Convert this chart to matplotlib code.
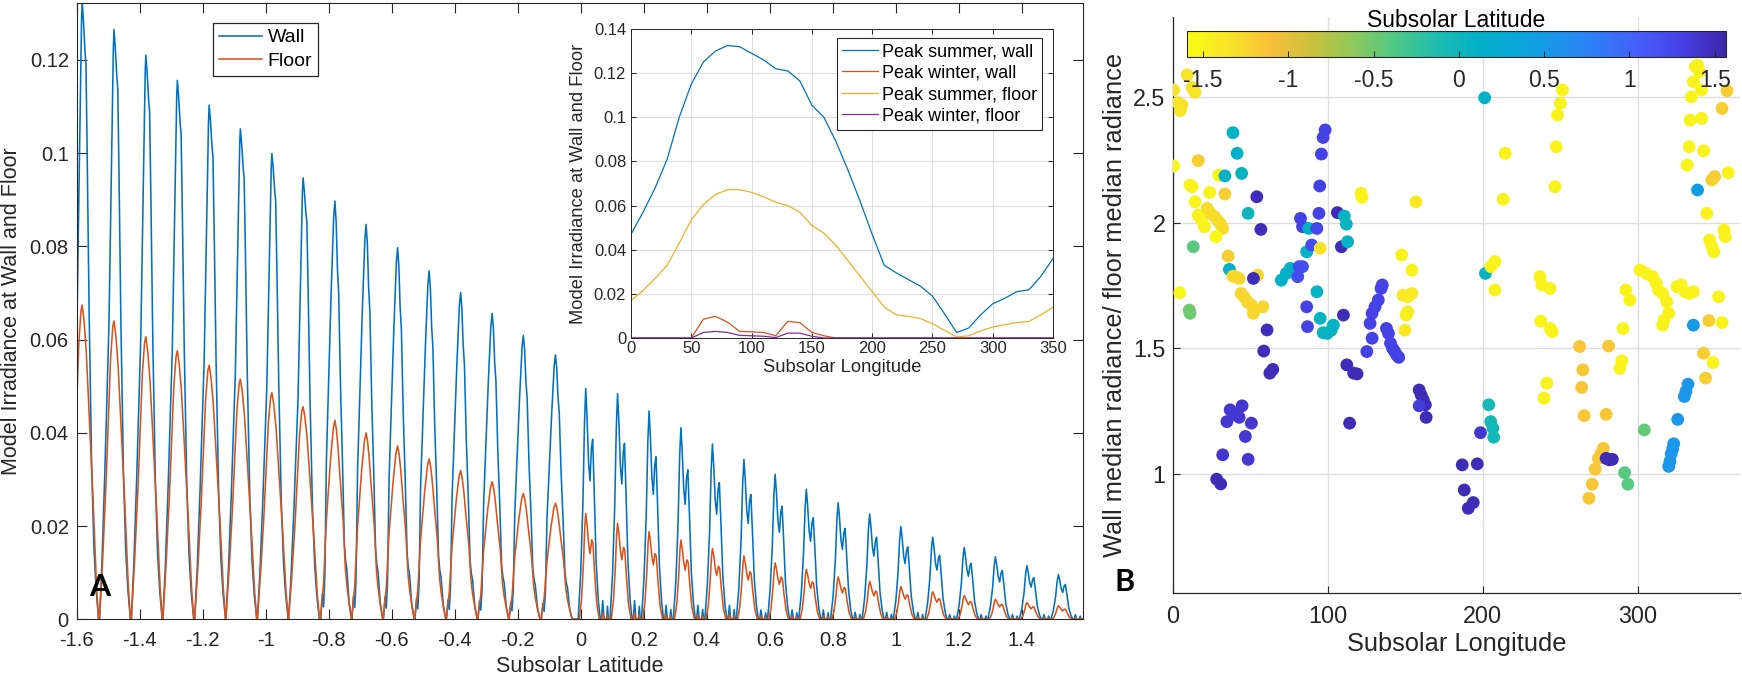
import numpy as np
import matplotlib
matplotlib.use('Agg')
import matplotlib.pyplot as plt
from matplotlib.colors import LinearSegmentedColormap, Normalize
from matplotlib.ticker import FuncFormatter

plt.rcParams['font.family'] = ['Liberation Sans', 'DejaVu Sans']
plt.rcParams['axes.unicode_minus'] = False

# ---------------- DATA: panel A (main) ----------------
peak_lat = [-1.582, -1.481, -1.380, -1.280, -1.179, -1.080, -0.980, -0.881,
            -0.780, -0.681, -0.581, -0.481, -0.381, -0.281, -0.182, -0.080,
            0.016, 0.117, 0.217, 0.318, 0.418, 0.518, 0.617, 0.716,
            0.817, 0.917, 1.016, 1.117, 1.217, 1.316, 1.416, 1.516]
wall_peak = [0.1324, 0.1265, 0.1210, 0.1156, 0.1103, 0.1052, 0.0999, 0.0947,
             0.0897, 0.0847, 0.0797, 0.0747, 0.0701, 0.0656, 0.0609, 0.0567,
             0.0495, 0.0484, 0.0447, 0.0411, 0.0376, 0.0343, 0.0311, 0.0279,
             0.0250, 0.0226, 0.0199, 0.0176, 0.0154, 0.0134, 0.0115, 0.0096]
floor_peak = [0.0674, 0.0640, 0.0606, 0.0576, 0.0545, 0.0515, 0.0486, 0.0456,
              0.0427, 0.0400, 0.0372, 0.0344, 0.0319, 0.0295, 0.0270, 0.0249,
              0.0227, 0.0206, 0.0188, 0.0170, 0.0152, 0.0136, 0.0121, 0.0107,
              0.0091, 0.0081, 0.0070, 0.0059, 0.0051, 0.0043, 0.0036, 0.0029]
cycle_shape = ['early'] * 8 + ['mid'] * 8 + ['late'] * 16
gap_bump = [0] * 16 + [0.004, 0.004, 0.003, 0.003, 0.003, 0.002, 0.002, 0.002,
                       0.0015, 0.0015, 0.0015, 0.001, 0.001, 0.001, 0.001, 0.001]

# peak profiles (offset from peak, fraction of peak)
wall_profile = {
    'early': ([-0.046, -0.038, -0.029, -0.016, -0.007, -0.002, 0.0, 0.004, 0.009, 0.012,
               0.016, 0.022, 0.030, 0.037, 0.044, 0.052],
              [0.0, 0.10, 0.25, 0.50, 0.80, 0.97, 1.0, 0.97, 0.92, 0.90,
               0.75, 0.50, 0.25, 0.12, 0.05, 0.0]),
    'mid': ([-0.045, -0.040, -0.036, -0.032, -0.027, -0.012, -0.004, 0.0, 0.004, 0.008,
             0.012, 0.018, 0.024, 0.030, 0.034, 0.038, 0.045, 0.053],
            [0.0, 0.06, 0.03, 0.10, 0.38, 0.78, 0.96, 1.0, 0.95, 0.84,
             0.78, 0.55, 0.38, 0.18, 0.14, 0.12, 0.04, 0.0]),
    'late': ([-0.024, -0.016, -0.009, -0.004, 0.0, 0.004, 0.009, 0.0135, 0.018, 0.022,
              0.027, 0.033, 0.040, 0.046],
             [0.0, 0.2, 0.5, 0.85, 1.0, 0.88, 0.68, 0.60, 0.74, 0.78,
              0.55, 0.25, 0.08, 0.0]),
}
floor_profile = {
    'early': ([-0.046, -0.036, -0.0255, -0.011, -0.004, 0.0, 0.006, 0.013, 0.020, 0.028,
               0.035, 0.045, 0.052],
              [0.0, 0.2, 0.45, 0.87, 0.98, 1.0, 0.95, 0.85, 0.70, 0.52,
               0.37, 0.12, 0.0]),
    'mid': ([-0.046, -0.036, -0.027, -0.014, -0.005, 0.0, 0.005, 0.010, 0.016, 0.026,
             0.033, 0.038, 0.046, 0.053],
            [0.0, 0.18, 0.50, 0.80, 0.96, 1.0, 0.95, 0.86, 0.72, 0.50,
             0.26, 0.17, 0.07, 0.0]),
    'late': ([-0.020, -0.013, -0.007, -0.003, 0.0, 0.004, 0.009, 0.0135, 0.019, 0.023,
              0.028, 0.035, 0.043],
             [0.0, 0.2, 0.55, 0.88, 1.0, 0.9, 0.72, 0.62, 0.75, 0.72,
              0.45, 0.15, 0.0]),
}
bump_dx = [0.050, 0.054, 0.058, 0.066, 0.069, 0.072]
bump_rel = [0.0, 1.0, 0.0, 0.0, 0.7, 0.0]

# ---------------- DATA: inset ----------------
inset_lon = list(range(0, 360, 10))
summer_wall = [0.047, 0.057, 0.068, 0.081, 0.100, 0.115, 0.125, 0.130, 0.1325, 0.132,
               0.129, 0.126, 0.122, 0.121, 0.1165, 0.1055, 0.100, 0.089, 0.076, 0.062,
               0.047, 0.033, 0.0295, 0.0265, 0.0235, 0.019, 0.011, 0.0025, 0.0045, 0.0105,
               0.0155, 0.018, 0.021, 0.0218, 0.028, 0.036]
winter_wall = [0, 0, 0, 0, 0, 0, 0.0085, 0.0098, 0.0072, 0.003,
               0.0028, 0.0025, 0.001, 0.0075, 0.007, 0.0025, 0.001, 0, 0, 0,
               0, 0, 0, 0, 0, 0, 0, 0, 0, 0, 0, 0, 0, 0, 0, 0]
summer_floor = [0.017, 0.0215, 0.027, 0.033, 0.043, 0.0535, 0.0605, 0.065, 0.0672, 0.0672,
                0.066, 0.064, 0.0615, 0.060, 0.057, 0.051, 0.0475, 0.042, 0.035, 0.028,
                0.021, 0.014, 0.0105, 0.0098, 0.0088, 0.0065, 0.0035, 0.0005, 0.001, 0.0032,
                0.005, 0.006, 0.007, 0.0075, 0.0105, 0.014]
winter_floor = [0, 0, 0, 0, 0, 0, 0.0025, 0.003, 0.0025, 0.0012,
                0.001, 0.0008, 0.0002, 0.0022, 0.0022, 0.0008, 0, 0, 0, 0,
                0, 0, 0, 0, 0, 0, 0, 0, 0, 0, 0, 0, 0, 0, 0, 0]

# ---------------- DATA: panel B ----------------
pts = [
    (9.2, 2.588, -1.35), (12.3, 2.538, -1.35), (14.2, 2.519, -1.35), (0.4, 2.528, -1.35),
    (3.1, 2.477, -1.35), (5.7, 2.468, -1.35), (4.7, 2.446, -1.35), (0.4, 2.225, -1.55),
    (16.3, 2.247, -1.2), (11.0, 2.150, -1.5), (12.3, 2.143, -1.5), (14.2, 2.083, -1.5),
    (23.7, 2.120, -1.5), (16.3, 2.030, -1.5), (18.4, 2.010, -1.5), (20.3, 1.984, -1.5),
    (29.5, 2.189, -1.55), (33.5, 2.186, 0.1), (33.5, 2.114, -1.2), (22.1, 2.057, -1.3),
    (24.2, 2.037, -1.3), (26.9, 2.024, -1.3), (29.0, 2.008, -1.3), (30.8, 1.994, -1.3),
    (32.1, 1.977, -1.3), (27.7, 1.944, -1.55), (13.1, 1.904, -0.4), (4.4, 1.721, -1.55),
    (10.5, 1.652, -0.5), (11.0, 1.639, -0.5), (35.6, 1.867, -1.2), (36.4, 1.814, 0.15),
    (38.7, 2.358, 0.1), (41.4, 2.276, 0.1), (44.3, 2.196, 0.05), (48.5, 2.037, 0.0),
    (54.1, 2.103, 1.5), (56.7, 1.973, 1.5), (38.7, 1.787, -1.25), (40.1, 1.785, -1.25),
    (42.7, 1.778, -1.25), (44.0, 1.718, -1.25), (45.9, 1.705, -1.25), (48.0, 1.685, -1.25),
    (50.6, 1.672, -1.25), (51.9, 1.639, -1.25), (54.6, 1.791, -1.25), (51.9, 1.778, 1.5),
    (58.0, 1.665, -1.25), (69.9, 1.771, 0.1), (73.1, 1.798, 0.1), (75.7, 1.818, 0.1),
    (80.5, 1.785, 1.2), (81.5, 1.825, 1.2), (83.6, 1.825, 1.2), (82.3, 2.017, 1.3),
    (83.6, 1.984, 1.3), (87.6, 1.977, 0.1), (86.3, 1.884, 0.1), (89.5, 1.911, 1.2),
    (86.3, 1.665, 1.3), (86.8, 1.586, 1.3), (92.9, 1.725, 0.05), (95.0, 1.898, -1.35),
    (92.9, 1.977, 1.25), (94.2, 2.037, 1.3), (94.7, 2.146, 1.3), (95.8, 2.273, 1.3),
    (96.9, 2.339, 1.3), (98.2, 2.369, 1.3), (95.0, 1.619, 0.05), (96.9, 1.562, 0.05),
    (99.5, 1.559, 0.05), (102.1, 1.572, 0.05), (103.5, 1.592, 0.05), (106.1, 2.040, 1.5),
    (110.6, 2.026, 0.05), (111.9, 1.994, 0.05), (108.7, 1.904, 1.5), (112.7, 1.924, 0.05),
    (110.0, 1.632, 1.5), (121.4, 2.117, -1.5), (121.9, 2.101, -1.5), (127.2, 1.599, 1.3),
    (128.5, 1.639, 1.3), (130.4, 1.665, 1.3), (132.5, 1.692, 1.3), (134.3, 1.738, 1.3),
    (135.1, 1.752, 1.3), (137.8, 1.579, 1.3), (139.1, 1.559, 1.3), (147.6, 1.871, -1.5),
    (154.2, 1.811, -1.5), (148.4, 1.711, -1.4), (151.5, 1.705, -1.4), (154.2, 1.718, -1.4),
    (151.5, 1.645, -1.45), (150.5, 1.632, -1.45), (149.7, 1.572, -1.4), (156.8, 2.083, -1.4),
    (201.2, 2.497, 0.1), (201.7, 1.798, 0.05), (205.2, 1.825, -1.5), (207.8, 1.845, -1.5),
    (207.8, 1.732, -1.5), (213.1, 2.093, -1.5), (214.4, 2.276, -1.5), (236.8, 1.785, -1.5),
    (238.2, 1.752, -1.5), (243.4, 1.738, -1.5), (237.4, 1.608, -1.5), (243.4, 1.579, -1.5),
    (244.8, 1.566, -1.5), (246.6, 2.143, -1.5), (247.4, 2.302, -1.5), (248.2, 2.428, -1.5),
    (250.0, 2.475, -1.5), (251.4, 2.528, -1.5), (292.3, 1.732, -1.5), (294.9, 1.692, -1.5),
    (290.5, 1.579, -1.5), (301.5, 1.811, -1.5), (305.5, 1.798, -1.5), (309.5, 1.785, -1.5),
    (312.1, 1.758, -1.5), (313.4, 1.732, -1.5), (316.1, 1.718, -1.5), (318.7, 1.685, -1.5),
    (320.0, 1.639, -1.5), (316.9, 1.612, -1.5), (316.1, 1.592, -1.5), (325.3, 1.745, -1.5),
    (328.0, 1.752, -1.5), (330.6, 1.725, -1.5), (333.2, 1.718, -1.5), (335.9, 1.725, -1.5),
    (335.9, 1.592, 0.5), (345.9, 1.610, -1.2), (354.4, 1.602, -1.5), (352.2, 1.705, -1.5),
    (338.6, 2.130, 0.45), (331.9, 2.229, -1.5), (333.2, 2.302, -1.5), (333.8, 2.408, -1.5),
    (334.6, 2.501, -1.5), (335.9, 2.561, -1.5), (337.2, 2.621, -1.5), (338.6, 2.627, -1.5),
    (341.2, 2.415, -1.5), (342.5, 2.286, -1.5), (344.6, 2.037, -1.5), (347.8, 2.170, -1.2),
    (349.6, 2.183, -1.2), (354.4, 2.455, -1.2), (357.6, 2.525, -1.2), (358.4, 2.199, -1.5),
    (355.7, 1.971, -1.5), (356.5, 1.944, -1.5), (346.4, 1.931, -1.5), (347.8, 1.904, -1.5),
    (349.1, 1.884, -1.5), (341.2, 2.528, -1.5), (339.9, 2.601, -1.5),
    (60.7, 1.573, 1.5), (58.6, 1.489, 1.5), (62.5, 1.401, 1.5), (64.4, 1.416, 1.5),
    (28.2, 0.979, 1.5), (30.8, 0.960, 1.5), (32.1, 1.076, 1.4), (34.8, 1.208, 1.4),
    (36.9, 1.255, 1.4), (40.6, 1.235, 1.4), (42.7, 1.225, 1.4), (44.6, 1.271, 1.4),
    (46.7, 1.149, 1.4), (48.5, 1.058, 1.4), (50.6, 1.202, 1.4), (112.2, 1.434, 1.5),
    (116.6, 1.401, 1.5), (118.8, 1.398, 1.5), (114.0, 1.202, 1.5), (125.1, 1.487, 1.3),
    (128.5, 1.540, 1.3), (140.4, 1.520, 1.3), (141.7, 1.500, 1.3), (143.1, 1.487, 1.3),
    (144.4, 1.473, 1.3), (145.7, 1.464, 1.3), (158.9, 1.334, 1.5), (160.2, 1.314, 1.5),
    (161.6, 1.294, 1.5), (162.9, 1.275, 1.5), (158.9, 1.271, 1.35), (163.4, 1.225, 1.5),
    (186.7, 1.036, 1.5), (188.0, 0.936, 1.5), (190.6, 0.863, 1.5), (193.8, 0.886, 1.5),
    (196.4, 1.040, 1.5), (198.5, 1.164, 1.4), (203.8, 1.275, -0.05), (205.1, 1.208, -0.05),
    (206.5, 1.182, -0.05), (207.0, 1.146, -0.05), (239.5, 1.301, -1.5), (241.3, 1.361, -1.5),
    (262.5, 1.507, -1.15), (264.6, 1.414, -1.15), (263.8, 1.344, -1.15), (265.4, 1.232, -1.15),
    (268.5, 0.903, -1.15), (270.6, 0.959, -1.15), (272.5, 1.019, -1.15), (274.6, 1.062, -1.15),
    (276.4, 1.082, -1.15), (277.8, 1.102, -1.15), (279.6, 1.062, 1.5), (281.7, 1.056, 1.5),
    (283.6, 1.058, 1.5), (279.6, 1.237, -1.15), (281.2, 1.509, -1.15), (288.4, 1.420, -1.5),
    (289.7, 1.450, -1.5), (291.5, 1.005, -0.4), (293.6, 0.959, -0.4), (304.2, 1.175, -0.45),
    (320.0, 1.030, 0.55), (320.8, 1.050, 0.55), (321.6, 1.080, 0.55), (322.6, 1.100, 0.55),
    (323.2, 1.120, 0.55), (325.8, 1.217, 0.55), (330.1, 1.308, 0.55), (331.1, 1.328, 0.55),
    (332.4, 1.357, 0.55), (342.5, 1.480, -1.2), (343.8, 1.381, -1.2), (348.6, 1.443, -1.5),
]
b_lon = [p[0] for p in pts]
b_ratio = [p[1] for p in pts]
b_lat = [p[2] for p in pts]

# ---------------- style ----------------
W, H = 1742, 677
C_BLUE = (0.0, 0.447, 0.741)
C_ORANGE = (0.850, 0.325, 0.098)
C_YELLOW = (0.929, 0.694, 0.125)
C_PURPLE = (0.494, 0.184, 0.556)
AX_COL = '#262626'
GRID_COL = '#dedede'

parula_anchor = [
    (0.2422, 0.1504, 0.6603), (0.2711, 0.2503, 0.8909), (0.2780, 0.3556, 0.9777),
    (0.1974, 0.4748, 0.9828), (0.1196, 0.5758, 0.9225), (0.0329, 0.6507, 0.8476),
    (0.0091, 0.6924, 0.7778), (0.1190, 0.7386, 0.6796), (0.3134, 0.7873, 0.5227),
    (0.5576, 0.7843, 0.3585), (0.7889, 0.7546, 0.2345), (0.9690, 0.7495, 0.2247),
    (0.9705, 0.8917, 0.1553), (0.9769, 0.9839, 0.0805)]
cmap = LinearSegmentedColormap.from_list('parula_r', parula_anchor[::-1], N=256)


def fig_rect(l, t, r, b):
    return [l / W, 1 - b / H, (r - l) / W, (b - t) / H]


def gfmt(v, pos=None):
    s = '%g' % round(v, 6)
    return '0' if s == '-0' else s


def build(peaks, heights, shapes, profiles, bumps, bscale):
    xs, ys = [], []
    for p, hh, s, b in zip(peaks, heights, shapes, bumps):
        dx, rel = profiles[s]
        xs += [p + d for d in dx]
        ys += [hh * r for r in rel]
        if s == 'late' and b > 0:
            xs += [p + d for d in bump_dx]
            ys += [b * bscale * r for r in bump_rel]
    xs.append(1.60)
    ys.append(0.0)
    return xs, ys


fig = plt.figure(figsize=(W / 100, H / 100), dpi=100)

# ---------------- panel A ----------------
ax = fig.add_axes(fig_rect(76.5, 3, 1083, 619.3))
wx, wy = build(peak_lat, wall_peak, cycle_shape, wall_profile, gap_bump, 1.0)
fx, fy = build(peak_lat, floor_peak, cycle_shape, floor_profile, gap_bump, 0.35)
ax.plot(wx, wy, color=C_BLUE, lw=1.15, label='Wall')
ax.plot(fx, fy, color=C_ORANGE, lw=1.15, label='Floor')
ax.set_xlim(-1.6, 1.594)
ax.set_ylim(0, 0.1322)
ax.set_xticks(np.arange(-1.6, 1.41, 0.2))
ax.set_yticks(np.arange(0, 0.121, 0.02))
ax.xaxis.set_major_formatter(FuncFormatter(gfmt))
ax.yaxis.set_major_formatter(FuncFormatter(gfmt))
ax.tick_params(direction='in', length=7.2, width=0.8, colors=AX_COL, labelsize=14.5,
               top=True, right=True)
ax.tick_params(axis='x', pad=8.3)
ax.tick_params(axis='y', pad=5.5)
for sp in ax.spines.values():
    sp.set_color(AX_COL)
    sp.set_linewidth(0.8)
ax.set_xlabel('Subsolar Latitude', fontsize=15.5, color=AX_COL)
ax.set_ylabel('Model Irradiance at Wall and Floor', fontsize=15.5, color=AX_COL)
ax.xaxis.set_label_coords(0.5, -0.060)
ax.yaxis.set_label_coords(-0.0546, 0.5)
leg = ax.legend(loc='upper left', bbox_to_anchor=(213 / W, 1 - 23 / H),
                bbox_transform=fig.transFigure, borderaxespad=0, fontsize=14,
                handlelength=2.2, handletextpad=0.3, labelspacing=0.3, borderpad=0.3,
                fancybox=False, framealpha=1, edgecolor=AX_COL)
leg.get_frame().set_linewidth(0.9)
fig.text(100 / W, 1 - 587 / H, 'A', fontsize=22, ha='center', va='center',
         color='black', fontweight='bold', family=['Lato', 'DejaVu Sans'])

# ---------------- inset ----------------
axi = fig.add_axes(fig_rect(631, 29, 1053, 338))
axi.plot(inset_lon, summer_wall, color=C_BLUE, lw=0.9, label='Peak summer, wall')
axi.plot(inset_lon, winter_wall, color=C_ORANGE, lw=0.9, label='Peak winter, wall')
axi.plot(inset_lon, summer_floor, color=C_YELLOW, lw=0.9, label='Peak summer, floor')
axi.plot(inset_lon, winter_floor, color=C_PURPLE, lw=0.9, label='Peak winter, floor')
axi.set_xlim(0, 350)
axi.set_ylim(0, 0.14)
axi.set_xticks(np.arange(0, 351, 50))
axi.set_yticks(np.arange(0, 0.141, 0.02))
axi.xaxis.set_major_formatter(FuncFormatter(gfmt))
axi.yaxis.set_major_formatter(FuncFormatter(gfmt))
axi.grid(True, color=GRID_COL, lw=0.8)
axi.set_axisbelow(True)
axi.tick_params(direction='in', length=3.5, width=0.7, colors=AX_COL, labelsize=12,
                top=True, right=True)
axi.tick_params(axis='x', pad=2.5)
axi.tick_params(axis='y', pad=3.5)
for sp in axi.spines.values():
    sp.set_color(AX_COL)
    sp.set_linewidth(0.7)
axi.set_xlabel('Subsolar Longitude', fontsize=13.2, color=AX_COL)
axi.set_ylabel('Model Irradiance at Wall and Floor', fontsize=13.2, color=AX_COL)
axi.xaxis.set_label_coords(0.5, -0.068)
axi.yaxis.set_label_coords(-0.104, 0.5)
leg2 = axi.legend(loc='upper left', bbox_to_anchor=(837 / W, 1 - 38 / H),
                  bbox_transform=fig.transFigure, borderaxespad=0, fontsize=13,
                  handlelength=2.0, handletextpad=0.2, labelspacing=0.25, borderpad=0.28,
                  fancybox=False, framealpha=1, edgecolor=AX_COL)
leg2.get_frame().set_linewidth(0.8)

# ---------------- panel B ----------------
axb = fig.add_axes(fig_rect(1173, 17, 1740, 593))
norm = Normalize(vmin=-1.594, vmax=1.566)
sc = axb.scatter(b_lon, b_ratio, c=b_lat, cmap=cmap, norm=norm, s=85,
                 edgecolors='none', zorder=3)
axb.set_xlim(0, 366)
axb.set_ylim(0.526, 2.8185)
axb.set_xticks([0, 100, 200, 300])
axb.set_yticks([1, 1.5, 2, 2.5])
axb.yaxis.set_major_formatter(FuncFormatter(gfmt))
axb.grid(True, color=GRID_COL, lw=1.0)
axb.set_axisbelow(True)
axb.tick_params(direction='in', length=5, width=0.8, colors=AX_COL, labelsize=16.8)
axb.tick_params(axis='x', pad=8.6)
axb.tick_params(axis='y', pad=5.4)
axb.spines['top'].set_visible(False)
axb.spines['right'].set_visible(False)
for sp in ('left', 'bottom'):
    axb.spines[sp].set_color(AX_COL)
    axb.spines[sp].set_linewidth(0.9)
axb.set_xlabel('Subsolar Longitude', fontsize=18.3, color=AX_COL)
axb.set_ylabel('Wall median radiance/ floor median radiance', fontsize=18.3, color=AX_COL)
axb.xaxis.set_label_coords(0.5, -0.068)
axb.yaxis.set_label_coords(-0.081, 0.5)
fig.text(1125 / W, 1 - 582 / H, 'B', fontsize=22, ha='center', va='center',
         color='black', fontweight='bold', family=['Lato', 'DejaVu Sans'])

cax = fig.add_axes(fig_rect(1187, 31, 1726, 57))
cb = fig.colorbar(sc, cax=cax, orientation='horizontal')
cb.set_ticks([-1.5, -1, -0.5, 0, 0.5, 1, 1.5])
cb.ax.xaxis.set_major_formatter(FuncFormatter(gfmt))
cb.ax.tick_params(direction='in', length=4, width=0.7, colors=AX_COL, labelsize=16.5, pad=8.3)
cb.outline.set_edgecolor(AX_COL)
cb.outline.set_linewidth(0.8)
cb.ax.xaxis.set_label_position('top')
cb.set_label('Subsolar Latitude', fontsize=16.5, color='black', labelpad=3)

fig.savefig('out.png', dpi=100)
